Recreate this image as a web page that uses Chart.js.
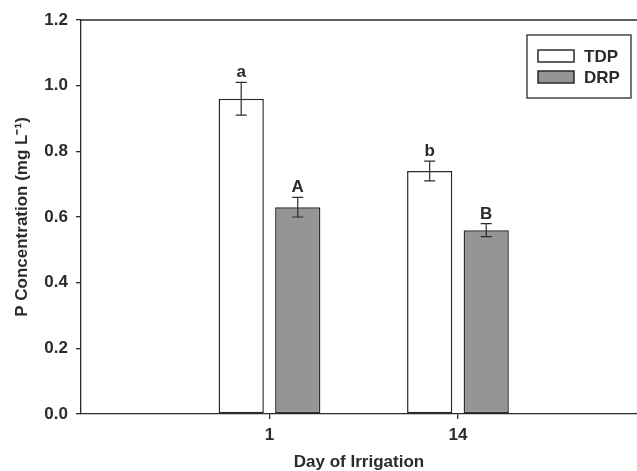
<!DOCTYPE html>
<html>
<head>
<meta charset="utf-8">
<script src="https://cdn.jsdelivr.net/npm/chart.js@4/dist/chart.umd.min.js"></script>
<style>
  html, body { margin: 0; padding: 0; background: #fff; }
</style>
</head>
<body>
<canvas id="pchart" width="637" height="471"></canvas>
<script>
const days = ["1", "14"];
const tdpMeans = [0.96, 0.74];
const tdpErr = [0.05, 0.03];
const tdpLetters = ["a", "b"];
const drpMeans = [0.63, 0.56];
const drpErr = [0.03, 0.02];
const drpLetters = ["A", "B"];
const yTicks = [0.0, 0.2, 0.4, 0.6, 0.8, 1.0, 1.2];

const ink = "#2b2b2b";
const fontFam = "'Liberation Sans', Arial, Helvetica, sans-serif";

const errs = [tdpErr, drpErr];
const letters = [tdpLetters, drpLetters];

// error bars, letters, legend box and top frame line
const extras = {
  id: "extras",
  afterDatasetsDraw(chart) {
    const ctx = chart.ctx;
    const y = chart.scales.y;
    const area = chart.chartArea;
    ctx.save();
    ctx.strokeStyle = ink;
    ctx.lineWidth = 1.3;
    ctx.beginPath();
    ctx.moveTo(area.left, area.top);
    ctx.lineTo(area.right, area.top);
    ctx.stroke();

    chart.data.datasets.forEach((ds, di) => {
      const meta = chart.getDatasetMeta(di);
      meta.data.forEach((bar, i) => {
        const v = ds.data[i].y;
        const e = errs[di][i];
        const yt = y.getPixelForValue(v + e);
        const yb = y.getPixelForValue(v - e);
        ctx.lineWidth = 1.2;
        ctx.beginPath();
        ctx.moveTo(bar.x, yt); ctx.lineTo(bar.x, yb);
        ctx.moveTo(bar.x - 5.5, yt); ctx.lineTo(bar.x + 5.5, yt);
        ctx.moveTo(bar.x - 5.5, yb); ctx.lineTo(bar.x + 5.5, yb);
        ctx.stroke();
        ctx.fillStyle = ink;
        ctx.font = "bold 17px " + fontFam;
        ctx.textAlign = "center";
        ctx.textBaseline = "alphabetic";
        ctx.fillText(letters[di][i], bar.x, yt - 5);
      });
    });

    // legend
    const bx = area.right - 110, by = area.top + 15;
    ctx.lineWidth = 1.3;
    ctx.strokeRect(bx, by, 104, 63);
    chart.data.datasets.forEach((ds, di) => {
      const sy = by + 15 + di * 21;
      ctx.fillStyle = ds.backgroundColor;
      ctx.fillRect(bx + 11, sy, 36, 12);
      ctx.lineWidth = 1.5;
      ctx.strokeRect(bx + 11, sy, 36, 12);
      ctx.fillStyle = ink;
      ctx.font = "bold 17px " + fontFam;
      ctx.textAlign = "left";
      ctx.textBaseline = "middle";
      ctx.fillText(ds.label, bx + 57, sy + 7);
    });
    ctx.restore();
  }
};

new Chart(document.getElementById("pchart"), {
  type: "bar",
  data: {
    datasets: [
      {
        label: "TDP",
        data: tdpMeans.map((v, i) => ({ x: i + 1, y: v })),
        backgroundColor: "#ffffff",
        borderColor: ink,
        borderWidth: 1.5,
        borderSkipped: false
      },
      {
        label: "DRP",
        data: drpMeans.map((v, i) => ({ x: i + 1, y: v })),
        backgroundColor: "#949597",
        borderColor: ink,
        borderWidth: 1.5,
        borderSkipped: false
      }
    ]
  },
  options: {
    responsive: false,
    animation: false,
    categoryPercentage: 0.6,
    barPercentage: 0.8,
    layout: { padding: { top: 20, right: 0, left: 0, bottom: 0 } },
    plugins: { legend: { display: false }, tooltip: { enabled: false } },
    scales: {
      x: {
        type: "linear",
        min: 0,
        max: 2.95,
        offset: false,
        afterBuildTicks: (s) => { s.ticks = days.map((d, i) => ({ value: i + 1 })); },
        afterFit: (s) => { s.height = 57; },
        ticks: {
          callback: (v) => days[v - 1],
          color: ink,
          font: { family: fontFam, size: 17, weight: "bold" },
          padding: 6,
          maxRotation: 0
        },
        grid: { drawOnChartArea: false, offset: false, tickLength: 5, color: ink, lineWidth: 1.3 },
        border: { color: ink, width: 1.3 },
        title: {
          display: true,
          text: "Day of Irrigation",
          color: ink,
          font: { family: fontFam, size: 17, weight: "bold", lineHeight: 1.0 },
          padding: { top: 0, bottom: 0 }
        }
      },
      y: {
        min: 0,
        max: 1.2,
        afterBuildTicks: (s) => { s.ticks = yTicks.map((v) => ({ value: v })); },
        afterFit: (s) => { s.width = 81; },
        ticks: {
          callback: (v) => v.toFixed(1),
          color: ink,
          font: { family: fontFam, size: 17, weight: "bold" },
          padding: 8
        },
        grid: { drawOnChartArea: false, tickLength: 5, color: ink, lineWidth: 1.3 },
        border: { color: ink, width: 1.3 },
        title: {
          display: true,
          text: "P Concentration (mg L\u207B\u00B9)",
          color: ink,
          font: { family: fontFam, size: 17, weight: "bold", lineHeight: 1.2 },
          padding: { top: 12, bottom: 0 }
        }
      }
    }
  },
  plugins: [extras]
});
</script>
</body>
</html>
